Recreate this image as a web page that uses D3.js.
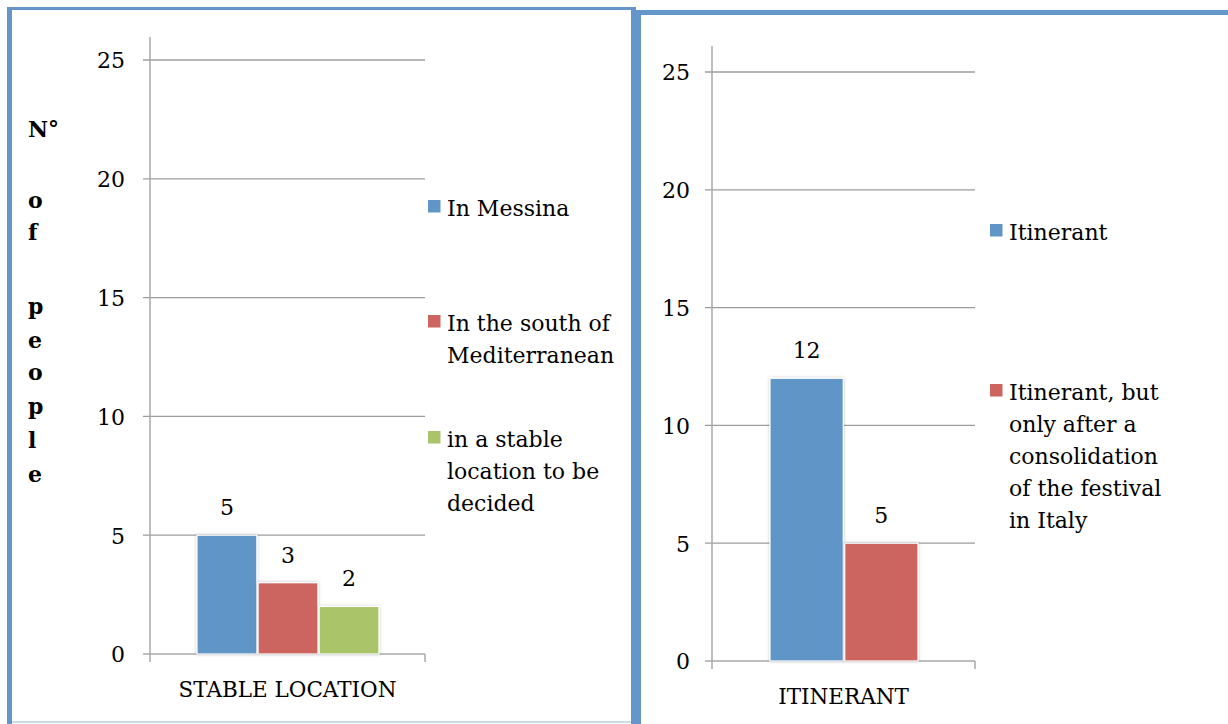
<!DOCTYPE html>
<html><head><meta charset="utf-8">
<script src="https://cdn.jsdelivr.net/npm/d3@7"></script>
<style>
html,body{margin:0;padding:0;background:#fff;}
svg text{font-family:"DejaVu Serif",serif;fill:#000;}
</style></head>
<body>
<svg id="c" width="1228" height="724"></svg>
<script>
// ---- data ----
const yTicks = [0, 5, 10, 15, 20, 25];
const leftCategory = "STABLE LOCATION";
const leftSeries = ["In Messina", "In the south of Mediterranean", "in a stable location to be decided"];
const leftValues = [5, 3, 2];
const leftLegendLines = [["In Messina"], ["In the south of", "Mediterranean"], ["in a stable", "location to be", "decided"]];
const rightCategory = "ITINERANT";
const rightSeries = ["Itinerant", "Itinerant, but only after a consolidation of the festival in Italy"];
const rightValues = [12, 5];
const rightLegendLines = [["Itinerant"], ["Itinerant, but", "only after a", "consolidation", "of the festival", "in Italy"]];
const yTitleLetters = ["N°", "o", "f", "p", "e", "o", "p", "l", "e"];
const colors = ["#6195C8", "#CC6560", "#AAC46B"];

const svg = d3.select("#c");
const border = "#6496CA";
const defs = svg.append("defs");
const f = defs.append("filter").attr("id","sh").attr("x","-20%").attr("y","-20%").attr("width","140%").attr("height","140%");
f.append("feDropShadow").attr("dx",0).attr("dy",0).attr("stdDeviation",1.6).attr("flood-color","#000").attr("flood-opacity",0.25);

// panel borders
svg.append("rect").attr("x",12).attr("y",721).attr("width",619).attr("height",2).attr("fill","#cbd9ea");
svg.append("rect").attr("x",7).attr("y",7).attr("width",629).attr("height",3).attr("fill",border);
svg.append("rect").attr("x",7).attr("y",7).attr("width",5).attr("height",717).attr("fill",border);
svg.append("rect").attr("x",631).attr("y",7).attr("width",5).attr("height",717).attr("fill",border);
svg.append("rect").attr("x",636).attr("y",10).attr("width",592).attr("height",5).attr("fill",border);
svg.append("rect").attr("x",636).attr("y",10).attr("width",5).attr("height",714).attr("fill",border);

function drawChart(o) {
  const g = svg.append("g");
  const y = d3.scaleLinear().domain([0, 25]).range([o.y0, o.y25]);
  // gridlines
  g.selectAll(".grid").data(yTicks.filter(d => d > 0)).join("line")
    .attr("x1", o.ax - 7).attr("x2", o.xr)
    .attr("y1", d => y(d)).attr("y2", d => y(d))
    .attr("stroke", "#9c9c9c").attr("stroke-width", 1.3);
  // y axis
  const axis = d3.axisLeft(y).tickValues(yTicks).tickSize(0).tickPadding(o.pad).tickFormat(d3.format("d"));
  const ag = g.append("g").attr("transform", `translate(${o.ax},0)`).call(axis);
  ag.select(".domain").remove();
  ag.selectAll("text").attr("font-size", 22).attr("font-family","DejaVu Serif").attr("fill","#000").attr("dy","0.36em");
  g.append("line").attr("x1", o.ax).attr("x2", o.ax).attr("y1", o.top).attr("y2", o.y0 + 8)
    .attr("stroke", "#a8a8a8").attr("stroke-width", 1.5);
  g.append("line").attr("x1", o.ax - 7).attr("x2", o.xr).attr("y1", o.y0).attr("y2", o.y0)
    .attr("stroke", "#a8a8a8").attr("stroke-width", 1.5);
  g.append("line").attr("x1", o.xr).attr("x2", o.xr).attr("y1", o.y0).attr("y2", o.y0 + 8)
    .attr("stroke", "#a8a8a8").attr("stroke-width", 1.5);
  // bars
  const xc = d3.scaleBand().domain([o.category]).range([o.ax, o.xr]);
  const xs = d3.scaleBand().domain(o.series).range([o.bx0, o.bx1]).paddingInner(0.02);
  g.selectAll(".bar").data(o.values).join("rect")
    .attr("x", (d, i) => xs(o.series[i]))
    .attr("width", xs.bandwidth())
    .attr("y", d => y(d)).attr("height", d => y(0) - y(d))
    .attr("fill", (d, i) => colors[i])
    .attr("stroke", "#fff").attr("stroke-width", 1.2)
    .attr("filter", "url(#sh)");
  g.selectAll(".val").data(o.values).join("text")
    .attr("x", (d, i) => xs(o.series[i]) + xs.bandwidth() / 2)
    .attr("y", d => y(d) - 20)
    .attr("text-anchor", "middle").attr("font-size", 22)
    .text(d => d);
  g.append("text").attr("x", xc(o.category) + xc.bandwidth() / 2).attr("y", o.catY)
    .attr("text-anchor", "middle").attr("font-size", 21.5).text(o.category);
  // legend
  o.legend.forEach((lines, i) => {
    const by = o.legY[i];
    g.append("rect").attr("x", o.lx).attr("y", by - 16).attr("width", 12.5).attr("height", 12.5).attr("fill", colors[i]);
    lines.forEach((t, j) => {
      g.append("text").attr("x", o.lx + 19).attr("y", by + j * 32).attr("font-size", 22).text(t);
    });
  });
}

drawChart({y0: 654, y25: 60, top: 37, ax: 150, xr: 425, pad: 25, bx0: 197, bx1: 379,
  category: leftCategory, series: leftSeries, values: leftValues, catY: 697,
  legend: leftLegendLines, lx: 428, legY: [216, 331, 447]});
drawChart({y0: 661, y25: 72, top: 46, ax: 712, xr: 975, pad: 22, bx0: 770, bx1: 918,
  category: rightCategory, series: rightSeries, values: rightValues, catY: 704,
  legend: rightLegendLines, lx: 990, legY: [240, 400]});

// y title (left)
const titleY = [137, 208, 240, 314, 348, 380, 414, 448, 482];
svg.append("g").selectAll("text").data(yTitleLetters).join("text")
  .attr("x", 28).attr("y", (d, i) => titleY[i])
  .attr("font-size", 22).attr("font-weight", "bold").text(d => d);
</script>
</body></html>
